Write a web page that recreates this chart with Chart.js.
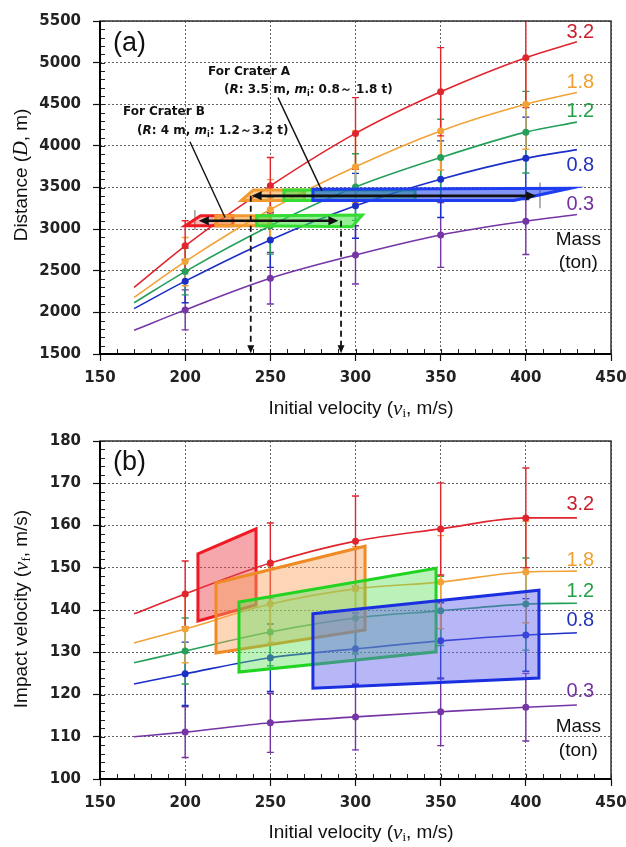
<!DOCTYPE html>
<html>
<head>
<meta charset="utf-8">
<script src="https://cdn.jsdelivr.net/npm/chart.js@4.4.0/dist/chart.umd.min.js"></script>
<style>
  html, body { margin: 0; padding: 0; background: #fff; }
  .box { position: relative; width: 626px; }
  canvas { display: block; }
</style>
</head>
<body>
<div class="box"><canvas id="chartA" width="626" height="420"></canvas></div>
<div class="box"><canvas id="chartB" width="626" height="427"></canvas></div>
<script>
/** initial velocity (m/s) for every curve */
var velocities = [170, 200, 250, 300, 350, 400, 430]
var massLabels = ['3.2', '1.8', '1.2', '0.8', '0.3']
var lineColors = ['#e0252f', '#f2a237', '#25a05a', '#1a2ec8', '#7535a5']
var textColors = ['#cc1f2b', '#f0a030', '#22a045', '#2233bb', '#7232a2']

/** (a) distance D (m) */
var dist32 = [2300, 2800, 3520, 4150, 4650, 5060, 5250]
var dist18 = [2180, 2610, 3235, 3750, 4180, 4500, 4640]
var dist12 = [2115, 2490, 3040, 3505, 3860, 4165, 4285]
var dist08 = [2045, 2375, 2870, 3280, 3600, 3850, 3955]
var dist03 = [1785, 2030, 2410, 2690, 2930, 3095, 3175]
// error half-widths at 200..400 m/s
var distErr32 = [300, 340, 430, 530, 600]
var distErr18 = [290, 360, 430, 470, 540]
var distErr12 = [280, 340, 400, 460, 490]
var distErr08 = [260, 330, 390, 460, 495]
var distErr03 = [240, 310, 350, 390, 400]

/** (b) impact velocity vf (m/s) */
var imp32 = [139.1, 143.8, 151.1, 156.3, 159.2, 161.8, 161.8]
var imp18 = [132.2, 135.5, 141.4, 145.0, 146.6, 149.0, 149.2]
var imp12 = [127.5, 130.3, 134.8, 138.1, 139.8, 141.4, 141.6]
var imp08 = [122.5, 124.9, 128.7, 130.8, 132.7, 134.1, 134.6]
var imp03 = [110.0, 111.1, 113.3, 114.7, 115.9, 117.0, 117.5]
var impErr32 = [7.8, 9.5, 10.7, 10.9, 11.8]
var impErr18 = [8, 9, 10, 11, 12]
var impErr12 = [7.8, 8, 8.5, 8.2, 10.9]
var impErr08 = [7.5, 8, 8.5, 9, 8.6]
var impErr03 = [6, 7, 7.8, 8, 8]

/** crater ranges in (a): bands, arrows, drop lines */
var bandBRedV = [200, 209, 228, 228], bandBRedD = [3040, 3160, 3160, 3040]
var bandBOrangeV = [218, 218, 250, 250], bandBOrangeD = [3040, 3160, 3160, 3040]
var bandBGreenV = [242, 242, 304, 298], bandBGreenD = [3040, 3160, 3170, 3030]
var bandAOrangeV = [233, 240, 270, 270], bandAOrangeD = [3345, 3470, 3470, 3345]
var bandAGreenV = [258, 258, 335, 335], bandAGreenD = [3345, 3470, 3470, 3345]
var bandABlueV = [275, 275, 426, 393], bandABlueD = [3345, 3480, 3490, 3345]
var arrowAV = [239, 406], arrowAD = 3400
var arrowBV = [208, 290], arrowBD = 3100
var dropV = [238.5, 291.5], dropFrom = [3400, 3100]
var greyMarkV = [205.7, 408.3], greyLow = [2990, 3250], greyHigh = [3230, 3560]
var leaderAV = [254.5, 280.3], leaderAD = [4580, 3459]
var leaderBV = [202.8, 223.4], leaderBD = [4049, 3140]

/** crater ranges in (b) */
var boxRedV = [207.5, 241.6, 241.6, 207.5], boxRedI = [153.3, 159.2, 141.2, 137.4]
var boxOrangeV = [218.1, 305.6, 305.6, 218.1], boxOrangeI = [146.4, 155.1, 135.3, 129.8]
var boxGreenV = [231.6, 347.3, 347.3, 231.6], boxGreenI = [141.9, 149.9, 130.1, 125.3]
var boxBlueV = [275.0, 407.7, 407.7, 275.0], boxBlueI = [139.1, 144.7, 123.9, 121.5]

/** label positions (data units) */
var labelX = 432
var labelYa = [5360, 4765, 4415, 3765, 3295], massYa = [2870, 2600]
var labelYb = [164.9, 151.8, 144.3, 137.6, 120.6], massYb = [112.3, 106.6]

var sansF = '"Liberation Sans", Arial, sans-serif'
var tickFont = { family: '"DejaVu Sans", Verdana, sans-serif', size: 15, weight: 'bold' }
var noteF = 'bold 12px "DejaVu Sans", Verdana, sans-serif'
var noteI = 'italic bold 12px "DejaVu Sans", Verdana, sans-serif'
var noteSub = 'bold 8px "DejaVu Sans", Verdana, sans-serif'

function drawRich(ctx, parts, x, y, align, rotate) {
    ctx.save()
    ctx.translate(x, y)
    if (rotate) ctx.rotate(-Math.PI / 2)
    var total = 0
    parts.forEach(function (p) { ctx.font = p.f; total += ctx.measureText(p.t).width })
    var cx = align === 'center' ? -total / 2 : 0
    ctx.textBaseline = 'middle'
    ctx.textAlign = 'left'
    parts.forEach(function (p) {
        ctx.font = p.f
        ctx.fillStyle = p.c || '#111'
        ctx.fillText(p.t, cx, p.dy || 0)
        cx += ctx.measureText(p.t).width
    })
    ctx.restore()
}

function polygon(chart, vx, vy, fill, stroke, w) {
    var ctx = chart.ctx, xs = chart.scales.x, ys = chart.scales.y
    ctx.beginPath()
    vx.forEach(function (v, i) {
        var px = xs.getPixelForValue(v), py = ys.getPixelForValue(vy[i])
        if (i) ctx.lineTo(px, py); else ctx.moveTo(px, py)
    })
    ctx.closePath()
    ctx.fillStyle = fill
    ctx.fill()
    ctx.lineWidth = w
    ctx.lineJoin = 'miter'
    ctx.strokeStyle = stroke
    ctx.stroke()
}

function arrowHead(ctx, x1, y1, x2, y2, len, half) {
    var ang = Math.atan2(y2 - y1, x2 - x1)
    ctx.beginPath()
    ctx.moveTo(x2, y2)
    ctx.lineTo(x2 - len * Math.cos(ang) + half * Math.sin(ang), y2 - len * Math.sin(ang) - half * Math.cos(ang))
    ctx.lineTo(x2 - len * Math.cos(ang) - half * Math.sin(ang), y2 - len * Math.sin(ang) + half * Math.cos(ang))
    ctx.closePath()
    ctx.fill()
}

function drawMarksA(chart) {
    var ctx = chart.ctx, xs = chart.scales.x, ys = chart.scales.y
    ctx.save()
    // grey velocity markers
    ctx.strokeStyle = '#999'
    ctx.lineWidth = 1.5
    greyMarkV.forEach(function (v, i) {
        var px = xs.getPixelForValue(v)
        ctx.beginPath()
        ctx.moveTo(px, ys.getPixelForValue(greyLow[i]))
        ctx.lineTo(px, ys.getPixelForValue(greyHigh[i]))
        ctx.stroke()
    })
    polygon(chart, bandBRedV, bandBRedD, 'rgba(238,40,40,0.35)', '#ee1c24', 3)
    polygon(chart, bandBOrangeV, bandBOrangeD, 'rgba(245,150,40,0.5)', '#f39a2e', 3)
    polygon(chart, bandBGreenV, bandBGreenD, 'rgba(60,225,60,0.55)', '#33dd33', 3)
    polygon(chart, bandAOrangeV, bandAOrangeD, 'rgba(245,150,40,0.5)', '#f39a2e', 3)
    polygon(chart, bandAGreenV, bandAGreenD, 'rgba(60,225,60,0.55)', '#33dd33', 3)
    polygon(chart, bandABlueV, bandABlueD, 'rgba(30,60,240,0.55)', '#1e3cf0', 3)

    // dashed drop lines down to the axis
    ctx.strokeStyle = '#111'
    ctx.fillStyle = '#111'
    ctx.lineWidth = 1.8
    dropV.forEach(function (v, i) {
        var px = xs.getPixelForValue(v)
        var y1 = ys.getPixelForValue(dropFrom[i]), y2 = ys.getPixelForValue(1510)
        ctx.setLineDash([6, 4])
        ctx.beginPath(); ctx.moveTo(px, y1); ctx.lineTo(px, y2 - 6); ctx.stroke()
        ctx.setLineDash([])
        arrowHead(ctx, px, y1, px, y2, 8, 3.5)
    })

    // double arrows for the velocity ranges
    ctx.lineWidth = 2.6
    ;[[arrowAV, arrowAD], [arrowBV, arrowBD]].forEach(function (a) {
        var x1 = xs.getPixelForValue(a[0][0]), x2 = xs.getPixelForValue(a[0][1]), py = ys.getPixelForValue(a[1])
        ctx.beginPath(); ctx.moveTo(x1 + 6, py); ctx.lineTo(x2 - 6, py); ctx.stroke()
        arrowHead(ctx, x2, py, x1, py, 10, 4.5)
        arrowHead(ctx, x1, py, x2, py, 10, 4.5)
    })

    // leader lines from the notes
    ctx.lineWidth = 1.4
    ;[[leaderAV, leaderAD], [leaderBV, leaderBD]].forEach(function (l) {
        ctx.beginPath()
        ctx.moveTo(xs.getPixelForValue(l[0][0]), ys.getPixelForValue(l[1][0]))
        ctx.lineTo(xs.getPixelForValue(l[0][1]), ys.getPixelForValue(l[1][1]))
        ctx.stroke()
    })
    ctx.restore()
}

function drawMarksB(chart) {
    var ctx = chart.ctx
    ctx.save()
    polygon(chart, boxRedV, boxRedI, 'rgba(236,60,70,0.45)', '#ee1b24', 3)
    polygon(chart, boxOrangeV, boxOrangeI, 'rgba(248,165,95,0.45)', '#f08a24', 3)
    polygon(chart, boxGreenV, boxGreenI, 'rgba(90,225,90,0.42)', '#22d422', 3)
    polygon(chart, boxBlueV, boxBlueI, 'rgba(95,95,238,0.45)', '#1a30e0', 3)
    ctx.restore()
}

function notesA(chart) {
    var ctx = chart.ctx, xs = chart.scales.x, ys = chart.scales.y
    drawRich(ctx, [{ t: 'For Crater A', f: noteF }], xs.getPixelForValue(213.4), ys.getPixelForValue(4886), 'left')
    drawRich(ctx, [
        { t: '(', f: noteF }, { t: 'R', f: noteI }, { t: ': 3.5 m, ', f: noteF },
        { t: 'm', f: noteI }, { t: 'i', f: noteSub, dy: 4 }, { t: ': 0.8～ 1.8 t)', f: noteF }
    ], xs.getPixelForValue(222.8), ys.getPixelForValue(4674), 'left')
    drawRich(ctx, [{ t: 'For Crater B', f: noteF }], xs.getPixelForValue(163.5), ys.getPixelForValue(4403), 'left')
    drawRich(ctx, [
        { t: '(', f: noteF }, { t: 'R', f: noteI }, { t: ': 4 m, ', f: noteF },
        { t: 'm', f: noteI }, { t: 'i', f: noteSub, dy: 4 }, { t: ': 1.2～3.2 t)', f: noteF }
    ], xs.getPixelForValue(171.7), ys.getPixelForValue(4178), 'left')
}

function overlay(cfg) {
    return {
        id: 'overlay',
        beforeDatasetsDraw: function (chart) {
            var ctx = chart.ctx, xs = chart.scales.x, ys = chart.scales.y, a = chart.chartArea
            ctx.save()
            ctx.beginPath()
            ctx.rect(a.left, a.top, a.right - a.left, a.bottom - a.top)
            ctx.clip()
            ctx.lineWidth = 1.4
            for (var k = cfg.series.length - 1; k >= 0; k--) {
                var vals = cfg.series[k]
                ctx.strokeStyle = lineColors[k]
                cfg.errors[k].forEach(function (e, j) {
                    var i = j + 1
                    var px = xs.getPixelForValue(velocities[i])
                    var top = ys.getPixelForValue(vals[i] + e), bot = ys.getPixelForValue(vals[i] - e)
                    ctx.beginPath()
                    ctx.moveTo(px, top); ctx.lineTo(px, bot)
                    ctx.moveTo(px - 3.5, top); ctx.lineTo(px + 3.5, top)
                    ctx.moveTo(px - 3.5, bot); ctx.lineTo(px + 3.5, bot)
                    ctx.stroke()
                })
            }
            ctx.restore()
        },
        afterDatasetsDraw: function (chart) {
            cfg.marks(chart)
        },
        afterDraw: function (chart) {
            var ctx = chart.ctx, xs = chart.scales.x, ys = chart.scales.y, a = chart.chartArea
            ctx.save()
            // minor ticks
            ctx.strokeStyle = '#222'
            ctx.lineWidth = 1
            ctx.beginPath()
            for (var v = cfg.yMin; v <= cfg.yMax; v += cfg.yMinor) {
                var py = Math.round(ys.getPixelForValue(v)) + 0.5
                ctx.moveTo(a.left, py); ctx.lineTo(a.left + 5, py)
            }
            for (var u = 150; u <= 450; u += 10) {
                var px = Math.round(xs.getPixelForValue(u)) + 0.5
                ctx.moveTo(px, a.bottom); ctx.lineTo(px, a.bottom - 5)
            }
            ctx.stroke()
            // frame
            ctx.strokeStyle = '#333'
            ctx.lineWidth = 1.5
            ctx.strokeRect(a.left, a.top, a.right - a.left, a.bottom - a.top)
            ctx.strokeStyle = '#000'
            ctx.lineWidth = 2
            ctx.beginPath()
            ctx.moveTo(a.left, a.top); ctx.lineTo(a.left, a.bottom); ctx.lineTo(a.right, a.bottom)
            ctx.stroke()

            // panel tag
            drawRich(ctx, [{ t: cfg.tag, f: '27px ' + sansF }], xs.getPixelForValue(157.6), ys.getPixelForValue(cfg.tagY), 'left')

            // mass labels on the right
            massLabels.forEach(function (m, k) {
                drawRich(ctx, [{ t: m, f: '20px ' + sansF, c: textColors[k] }], xs.getPixelForValue(labelX), ys.getPixelForValue(cfg.labelY[k]), 'center')
            })
            drawRich(ctx, [{ t: 'Mass', f: '19px ' + sansF }], xs.getPixelForValue(labelX) - 2, ys.getPixelForValue(cfg.massY[0]), 'center')
            drawRich(ctx, [{ t: '(ton)', f: '19px ' + sansF }], xs.getPixelForValue(labelX) - 2, ys.getPixelForValue(cfg.massY[1]), 'center')

            if (cfg.notes) cfg.notes(chart)

            // axis titles
            drawRich(ctx, [
                { t: 'Initial velocity (', f: '19px ' + sansF },
                { t: 'v', f: 'italic 21px "Liberation Serif", serif' },
                { t: 'i', f: '13px "Liberation Serif", serif', dy: 5 },
                { t: ', m/s)', f: '19px ' + sansF }
            ], 361, cfg.xTitleY, 'center')
            drawRich(ctx, cfg.yTitle, 22, cfg.yTitleY, 'center', true)
            ctx.restore()
        }
    }
}

function plainTick(value) {
    return String(value)
}

function makeChart(id, cfg) {
    var datasets = cfg.series.map(function (vals, k) {
        return {
            data: velocities.map(function (v, i) { return { x: v, y: vals[i] } }),
            borderColor: lineColors[k],
            backgroundColor: lineColors[k],
            borderWidth: 1.6,
            pointRadius: velocities.map(function (v) { return v >= 200 && v <= 400 ? 3.5 : 0 }),
            pointBorderWidth: 0,
            cubicInterpolationMode: 'monotone',
            fill: false
        }
    })
    return new Chart(document.getElementById(id), {
        type: 'line',
        data: { datasets: datasets },
        options: {
            responsive: false,
            animation: false,
            layout: { padding: { top: cfg.padTop, right: 15, left: 0, bottom: 0 } },
            plugins: { legend: { display: false }, tooltip: { enabled: false } },
            scales: {
                x: {
                    type: 'linear', min: 150, max: 450,
                    ticks: { stepSize: 50, font: tickFont, color: '#222', padding: 8, callback: plainTick },
                    grid: { color: '#666', tickLength: 7, tickColor: '#111', tickWidth: 1.2 },
                    border: { display: false, dash: [2, 2] },
                    afterFit: function (s) { s.height = cfg.xHeight; s.paddingLeft = 0; s.paddingRight = 0 }
                },
                y: {
                    min: cfg.yMin, max: cfg.yMax,
                    ticks: { stepSize: cfg.yStep, font: tickFont, color: '#222', padding: 12, callback: plainTick },
                    grid: { color: '#666', tickLength: 7, tickColor: '#111', tickWidth: 1.2 },
                    border: { display: false, dash: [2, 2] },
                    afterFit: function (s) { s.width = 100 }
                }
            }
        },
        plugins: [overlay(cfg)]
    })
}

makeChart('chartA', {
    series: [dist32, dist18, dist12, dist08, dist03],
    errors: [distErr32, distErr18, distErr12, distErr08, distErr03],
    yMin: 1500, yMax: 5500, yStep: 500, yMinor: 100,
    padTop: 15, xHeight: 66,
    tag: '(a)', tagY: 5229,
    labelY: labelYa, massY: massYa,
    marks: drawMarksA, notes: notesA,
    xTitleY: 409, yTitleY: 175,
    yTitle: [
        { t: 'Distance (', f: '19px ' + sansF },
        { t: 'D', f: 'italic 20px "Liberation Serif", serif' },
        { t: ', m)', f: '19px ' + sansF }
    ]
})

makeChart('chartB', {
    series: [imp32, imp18, imp12, imp08, imp03],
    errors: [impErr32, impErr18, impErr12, impErr08, impErr03],
    yMin: 100, yMax: 180, yStep: 10, yMinor: 2,
    padTop: 21, xHeight: 68,
    tag: '(b)', tagY: 174.8,
    labelY: labelYb, massY: massYb,
    marks: drawMarksB, notes: null,
    xTitleY: 413, yTitleY: 189,
    yTitle: [
        { t: 'Impact velocity (', f: '19px ' + sansF },
        { t: 'v', f: 'italic 21px "Liberation Serif", serif' },
        { t: 'f', f: '13px "Liberation Serif", serif', dy: 5 },
        { t: ', m/s)', f: '19px ' + sansF }
    ]
})
</script>
</body>
</html>
